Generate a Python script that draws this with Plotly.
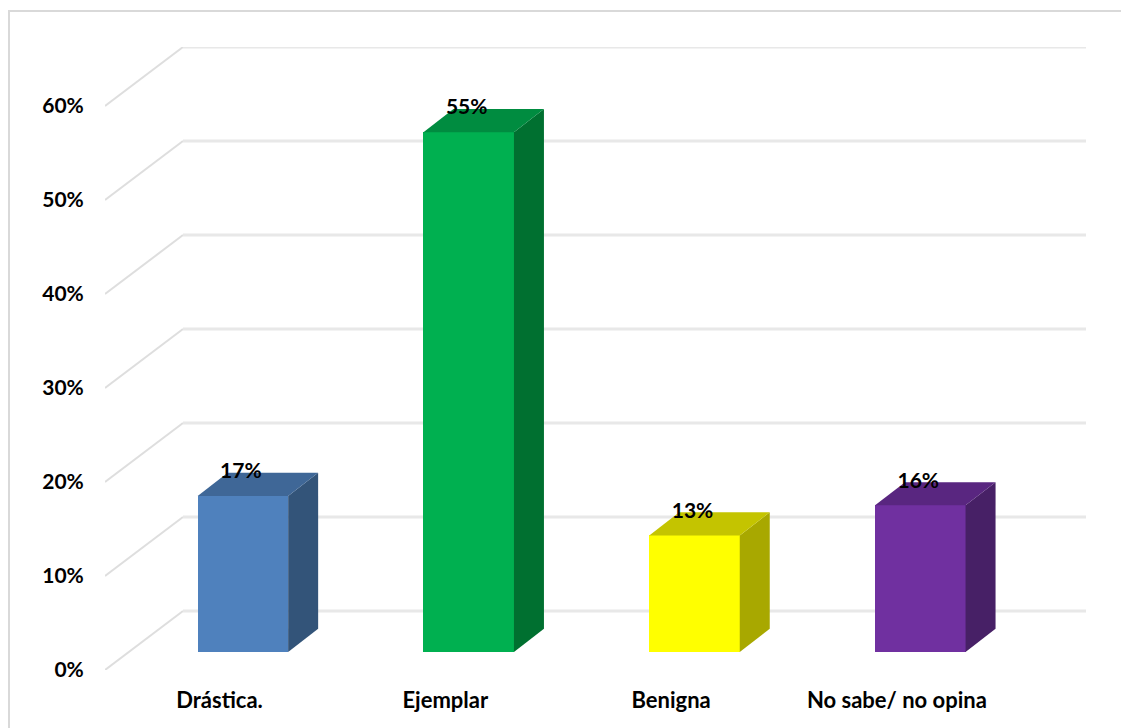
import plotly.graph_objects as go

categories = ["Drástica.", "Ejemplar", "Benigna", "No sabe/ no opina"]
values = [0.166, 0.553, 0.124, 0.156]
labels = ["17%", "55%", "13%", "16%"]
front_colors = ["#4F81BD", "#00B050", "#FFFF00", "#7030A0"]
side_colors = ["#335479", "#007030", "#A8A800", "#472066"]
top_colors = ["#3F6797", "#008C40", "#C4C400", "#592680"]
y_ticks = [0, 0.1, 0.2, 0.3, 0.4, 0.5, 0.6]

W, H = 1121, 728
L, R, T, B = 105, 1086, 47, 670
STEP = 225.8           # px per category
UNIT = (B - T) / 0.6628  # px per 1.0 on y
FONT = dict(family="Lato, 'Open Sans', sans-serif", size=21, color="#000000", weight=700)
XFONT = dict(FONT, size=22)

idx = list(range(len(categories)))
x_range = [(L - 219.5) / STEP, (R - 219.5) / STEP]
x2_range = [(L - 242.9) / STEP, (R - 242.9) / STEP]
y_top = (B - T) / UNIT
lift = 18 / UNIT
wall_dx, wall_dy = 78 / STEP, 59 / UNIT
bar_dx, bar_dy = 30 / STEP, 23.2 / UNIT
bar_w = 90.5 / STEP

fig = go.Figure()

# wall and floor grid
for t in y_ticks:
    fig.add_trace(go.Scatter(
        x=[x_range[0], x_range[0] + wall_dx], y=[t, t + wall_dy], mode="lines",
        line=dict(color="#DEDEDE", width=2), hoverinfo="skip", showlegend=False, cliponaxis=False))
    fig.add_trace(go.Scatter(
        x=[x_range[0] + wall_dx, x_range[1]], y=[t + wall_dy, t + wall_dy], mode="lines",
        line=dict(color="#E8E8E8", width=3), hoverinfo="skip", showlegend=False, cliponaxis=False))

# front faces
fig.add_trace(go.Bar(x=idx, y=values, width=bar_w, marker=dict(color=front_colors, line=dict(width=0)),
                     xaxis="x2", yaxis="y2", showlegend=False))

# side and top faces
for i, v in zip(idx, values):
    xl, xr = i - bar_w / 2, i + bar_w / 2
    fig.add_trace(go.Scatter(
        x=[xr, xr + bar_dx, xr + bar_dx, xr, xr], y=[0, bar_dy, v + bar_dy, v, 0],
        fill="toself", fillcolor=side_colors[i], mode="lines", line=dict(width=0),
        xaxis="x2", yaxis="y2", showlegend=False, hoverinfo="skip"))
    fig.add_trace(go.Scatter(
        x=[xl, xr, xr + bar_dx, xl + bar_dx, xl], y=[v, v, v + bar_dy, v + bar_dy, v],
        fill="toself", fillcolor=top_colors[i], mode="lines", line=dict(width=0),
        xaxis="x2", yaxis="y2", showlegend=False, hoverinfo="skip"))

# data labels
fig.add_trace(go.Scatter(
    x=[i - 2 / STEP for i in idx], y=[v + 23 / UNIT for v in values], text=labels,
    mode="text", textposition="middle center", textfont=FONT,
    xaxis="x2", yaxis="y2", showlegend=False, hoverinfo="skip", cliponaxis=False))

fig.update_layout(
    width=W, height=H, autosize=False,
    margin=dict(l=L, r=W - R, t=T, b=H - B, pad=0),
    paper_bgcolor="#FFFFFF", plot_bgcolor="rgba(0,0,0,0)",
    font=FONT, showlegend=False, bargap=0,
    xaxis=dict(range=x_range, tickmode="array", tickvals=idx, ticktext=categories,
               showgrid=False, zeroline=False, showline=False,
               ticks="outside", ticklen=11, tickcolor="rgba(0,0,0,0)", tickfont=XFONT),
    yaxis=dict(range=[0, y_top], tickmode="array", tickvals=y_ticks,
               ticktext=[f"{round(t * 100)}%" for t in y_ticks],
               showgrid=False, zeroline=False, showline=False,
               ticks="outside", ticklen=16, tickcolor="rgba(0,0,0,0)", tickfont=FONT),
    xaxis2=dict(range=x2_range, overlaying="x", visible=False),
    yaxis2=dict(range=[-lift, y_top - lift], overlaying="y", visible=False),
    shapes=[dict(type="path", xref="paper", yref="paper",
                 path=f"M {(W + 5 - L) / (R - L)} {(B - 11) / (B - T)} "
                      f"L {(9 - L) / (R - L)} {(B - 11) / (B - T)} "
                      f"L {(9 - L) / (R - L)} {(B - H - 5) / (B - T)}",
                 line=dict(color="#D9D9D9", width=2), layer="below")],
)

fig.write_html("out.html", config=dict(displayModeBar=False),
               post_script="document.body.style.margin='0';document.documentElement.style.overflow='hidden';")
